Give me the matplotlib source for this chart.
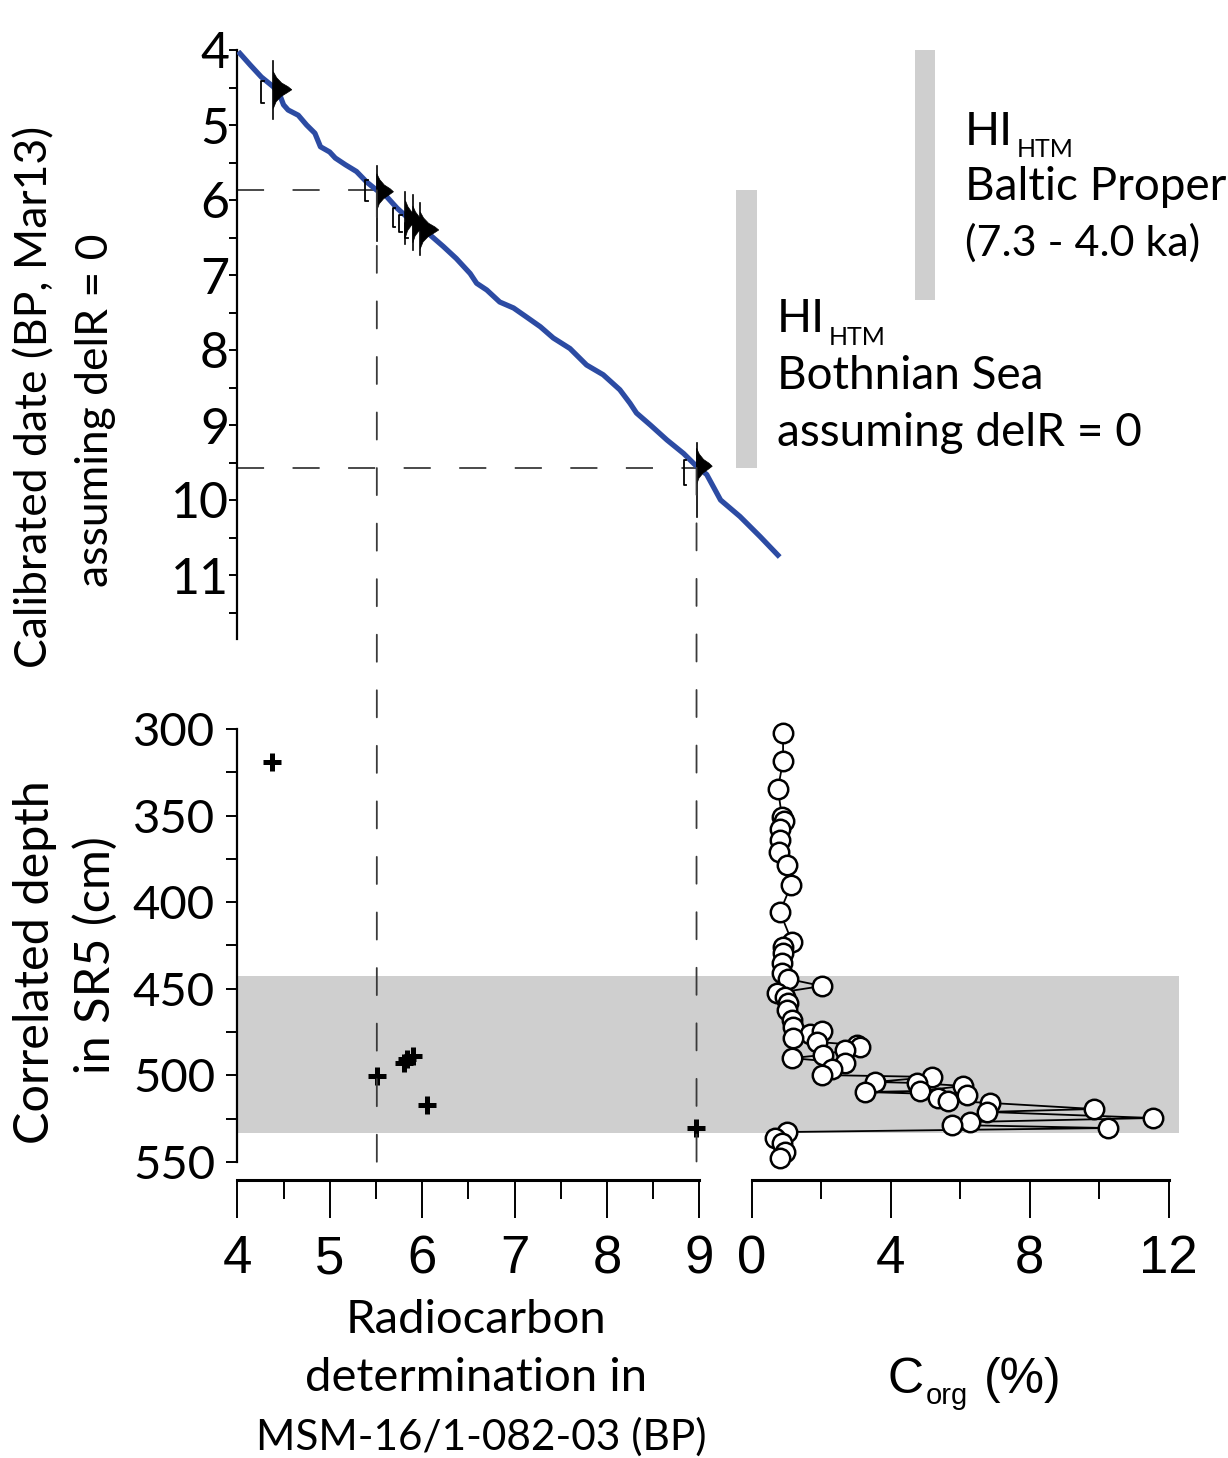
import matplotlib
matplotlib.use('Agg')
import matplotlib.pyplot as plt
from matplotlib.patches import ConnectionPatch, Rectangle, Polygon
from matplotlib.transforms import blended_transform_factory
from matplotlib.ticker import MultipleLocator

# ---------------- data ----------------
# calibration curve (radiocarbon ka BP -> calibrated ka BP)
curve_c14 = [4.01, 4.14, 4.26, 4.39, 4.46, 4.50, 4.55, 4.66, 4.75, 4.84, 4.87, 4.90, 5.00, 5.06,
             5.17, 5.29, 5.40, 5.51, 5.62, 5.73, 5.83, 5.94, 6.09, 6.23, 6.37, 6.52, 6.59, 6.70,
             6.84, 6.99, 7.13, 7.28, 7.42, 7.60, 7.78, 7.96, 8.14, 8.25, 8.32, 8.47, 8.65, 8.83,
             8.97, 9.08, 9.23, 9.44, 9.66, 9.87]
curve_cal = [4.02, 4.20, 4.36, 4.49, 4.60, 4.73, 4.80, 4.87, 5.00, 5.11, 5.20, 5.29, 5.36, 5.44,
             5.53, 5.62, 5.76, 5.87, 5.96, 6.11, 6.22, 6.33, 6.47, 6.62, 6.78, 6.98, 7.11, 7.20,
             7.36, 7.44, 7.56, 7.69, 7.84, 7.98, 8.20, 8.33, 8.53, 8.71, 8.84, 9.00, 9.20, 9.38,
             9.55, 9.66, 10.00, 10.22, 10.49, 10.76]

# calibrated dates: radiocarbon age, peak of calibrated probability, range of vertical line, bracket
date_c14 = [4.39, 5.51, 5.82, 5.90, 5.98, 8.97]
date_peak = [4.53, 5.89, 6.25, 6.32, 6.40, 9.55]
date_lo = [4.15, 5.55, 5.89, 5.93, 6.04, 9.24]
date_hi = [4.92, 6.55, 6.58, 6.67, 6.73, 10.22]
date_width = [0.20, 0.18, 0.15, 0.16, 0.20, 0.17]
bracket_x = [4.26, 5.38, 5.68, 5.75, 5.82, 8.83]
bracket_lo = [4.41, 5.73, 6.10, 6.20, 6.31, 9.47]
bracket_hi = [4.71, 6.02, 6.36, 6.42, 6.51, 9.80]
# shape of a calibrated probability distribution (relative)
pdf_dy = [-0.24, -0.16, -0.09, -0.04, 0.0, 0.04, 0.09, 0.16, 0.25]
pdf_w = [0.0, 0.18, 0.45, 0.80, 1.0, 0.75, 0.42, 0.15, 0.0]

# tie points (dashed lines)
tie_c14 = [5.51, 8.97]
tie_cal = [5.87, 9.57]

# HI_HTM ranges (calibrated ka)
hi_bothnian = (5.87, 9.57)
hi_baltic = (4.0, 7.33)

# radiocarbon dates vs correlated depth
cross_c14 = [4.38, 5.51, 5.80, 5.84, 5.90, 6.05, 8.96]
cross_depth = [319.2, 500.2, 493.0, 490.5, 489.0, 517.0, 530.2]

# Corg profile
corg = [0.90, 0.90, 0.75, 0.87, 0.93, 0.81, 0.81, 0.78, 1.01, 1.13, 0.81, 1.16, 0.90, 0.90,
        0.87, 0.87, 1.04, 2.02, 0.73, 0.96, 1.04, 1.01, 1.16, 1.19, 1.67, 2.02, 1.19, 1.88,
        3.03, 3.11, 2.68, 2.05, 1.16, 2.68, 2.31, 2.02, 5.19, 3.55, 4.75, 6.08, 4.84, 3.26,
        6.19, 5.36, 5.65, 6.86, 9.85, 6.77, 11.55, 6.28, 5.76, 10.25, 1.01, 0.67, 0.87, 0.96, 0.81]
corg_depth = [302.3, 318.5, 334.6, 350.8, 353.1, 357.7, 364.1, 371.0, 378.5, 390.1, 405.7, 423.0,
              425.9, 429.3, 435.1, 440.9, 444.3, 448.4, 452.4, 454.7, 458.2, 462.2, 468.0, 472.1,
              476.1, 474.4, 478.4, 480.7, 482.4, 483.6, 485.3, 488.2, 490.0, 492.8, 496.3, 499.8,
              500.9, 503.8, 504.4, 506.1, 509.0, 509.6, 511.3, 513.0, 514.8, 515.9, 519.4, 521.1,
              524.6, 526.9, 528.6, 530.4, 532.7, 536.2, 539.0, 544.2, 547.7]

# shaded hypoxic interval in depth
band_depth = (442.6, 533.0)

top_ticks = [4, 5, 6, 7, 8, 9, 10, 11]
depth_ticks = [300, 350, 400, 450, 500, 550]
c14_ticks = [4, 5, 6, 7, 8, 9]
corg_ticks = [0, 4, 8, 12]

# ---------------- figure ----------------
W, H, DPI = 1228, 1458, 100
plt.rcParams['font.family'] = ['Lato', 'DejaVu Sans']
fig = plt.figure(figsize=(W / DPI, H / DPI), dpi=DPI)
fig.patch.set_facecolor('white')

NARROW = ['Liberation Sans Narrow', 'Liberation Sans', 'DejaVu Sans']
BLUE = '#2c4ba3'
GREY = '#cfcfcf'
DASHC = '#3a3a3a'
TXT = 33


def add_ax(left, top, right, bottom):
    ax = fig.add_axes([left / W, 1 - bottom / H, (right - left) / W, (bottom - top) / H])
    ax.patch.set_visible(False)
    return ax

PXU = 92.4    # px per radiocarbon ka
X4 = 237.3    # px of 4 ka
# ---- top panel ----
ax_t = add_ax(X4, 50, X4 + 10.5 * PXU, 50 + 7.85 * 75)
ax_t.set_xlim(4, 14.5)
ax_t.set_ylim(11.85, 4)
for s in ['top', 'right', 'bottom']:
    ax_t.spines[s].set_visible(False)
ax_t.spines['left'].set_linewidth(1.6)
ax_t.set_xticks([])
ax_t.set_yticks(top_ticks)
ax_t.yaxis.set_minor_locator(MultipleLocator(0.5))
ax_t.tick_params(axis='y', which='major', length=6, width=1.4, pad=0, labelsize=36)
ax_t.tick_params(axis='y', which='minor', length=6, width=1.4)

ax_t.plot(curve_c14, curve_cal, color=BLUE, lw=3.8, solid_capstyle='butt', zorder=3)

for i in range(len(date_c14)):
    x0 = date_c14[i]
    ax_t.plot([x0, x0], [date_lo[i], date_hi[i]], color='black', lw=1.2, zorder=4)
    xs = [x0 + date_width[i] * w for w in pdf_w]
    ys = [date_peak[i] + d for d in pdf_dy]
    ax_t.add_patch(Polygon(list(zip(xs, ys)), closed=True, facecolor='black',
                           edgecolor='black', lw=0.5, zorder=5))
    bx, d = bracket_x[i], 0.03
    ax_t.plot([bx + d, bx, bx, bx + d], [bracket_lo[i], bracket_lo[i], bracket_hi[i], bracket_hi[i]],
              color='black', lw=1.3, zorder=4)

lw_d = 1.3
dash = (0, (19.5 / lw_d, 20.5 / lw_d))
for c, k in zip(tie_c14, tie_cal):
    ax_t.plot([4, c], [k, k], color=DASHC, lw=lw_d, linestyle=dash, zorder=2)

# grey bars (HI_HTM ranges)
ax_t.add_patch(Rectangle((9.40, hi_bothnian[0]), 0.225, hi_bothnian[1] - hi_bothnian[0],
                         facecolor=GREY, edgecolor='none', clip_on=False))
ax_t.add_patch(Rectangle((11.33, hi_baltic[0]), 0.22, hi_baltic[1] - hi_baltic[0],
                         facecolor=GREY, edgecolor='none', clip_on=False))

# ---- bottom left ----
PXD = 1.732
ytop_px = 729 - 5 * PXD
ax_b = add_ax(X4, ytop_px, X4 + 5.15 * PXU, 1180)
ax_b.set_xlim(4, 9.15)
ax_b.set_ylim(560.4, 295)
for s in ['top', 'right']:
    ax_b.spines[s].set_visible(False)
ax_b.spines['left'].set_bounds(300, 550)
ax_b.spines['bottom'].set_bounds(4, 9)
ax_b.spines['left'].set_linewidth(1.6)
ax_b.spines['bottom'].set_linewidth(2.2)
ax_b.set_yticks(depth_ticks)
ax_b.yaxis.set_minor_locator(MultipleLocator(25))
ax_b.set_xticks(c14_ticks)
ax_b.xaxis.set_minor_locator(MultipleLocator(0.5))
ax_b.tick_params(axis='y', which='both', length=8, width=1.4, pad=8, labelsize=34)
ax_b.tick_params(axis='x', which='major', length=27, width=1.4, pad=12, labelsize=38,
                 labelfontfamily=NARROW)
ax_b.tick_params(axis='x', which='minor', length=13.5, width=1.4)
ax_b.plot(cross_c14, cross_depth, linestyle='none', marker='+', markersize=13,
          mew=3.6, color='black', zorder=5)

# band across both bottom panels
tr = blended_transform_factory(fig.transFigure, ax_b.transData)
ax_b.add_patch(Rectangle((238 / W, band_depth[0]), (1179 - 238) / W, band_depth[1] - band_depth[0],
                         transform=tr, facecolor=GREY, edgecolor='none', clip_on=False, zorder=0))

# ---- bottom right: Corg ----
PXC = 34.75
ax_c = add_ax(751.8, ytop_px, 751.8 + 12.35 * PXC, 1180)
ax_c.set_xlim(0, 12.35)
ax_c.set_ylim(560.4, 295)
for s in ['top', 'right', 'left']:
    ax_c.spines[s].set_visible(False)
ax_c.spines['bottom'].set_bounds(0, 12)
ax_c.spines['bottom'].set_linewidth(2.2)
ax_c.set_yticks([])
ax_c.set_xticks(corg_ticks)
ax_c.xaxis.set_minor_locator(MultipleLocator(2))
ax_c.tick_params(axis='x', which='major', length=27, width=1.4, pad=12, labelsize=38,
                 labelfontfamily=NARROW)
ax_c.tick_params(axis='x', which='minor', length=13.5, width=1.4)
ax_c.plot(corg, corg_depth, color='black', lw=1.3, marker='o', markersize=14,
          mfc='white', mec='black', mew=1.8, zorder=5, clip_on=False)

# vertical dashed tie lines through the panels
for c, k in zip(tie_c14, tie_cal):
    cp = ConnectionPatch(xyA=(c, k), coordsA=ax_t.transData, xyB=(c, 560.4), coordsB=ax_b.transData,
                         color=DASHC, lw=lw_d, linestyle=dash)
    fig.add_artist(cp)


# ---------------- texts ----------------
def ftext(x, y, s, **kw):
    return fig.text(x / W, 1 - y / H, s, **kw)

renderer = fig.canvas.get_renderer()


def right_px(t):
    bb = t.get_window_extent(renderer=renderer)
    return bb.x1


ftext(35, 397, 'Calibrated date (BP, Mar13)', rotation=90, ha='center', va='center', fontsize=32)
ftext(95, 410, 'assuming delR = 0', rotation=90, ha='center', va='center', fontsize=32)
ftext(35, 962, 'Correlated depth', rotation=90, ha='center', va='center', fontsize=35)
ftext(95, 955, 'in SR5 (cm)', rotation=90, ha='center', va='center', fontsize=35)

ftext(476, 1320, 'Radiocarbon', ha='center', va='center', fontsize=34)
ftext(476, 1378, 'determination in', ha='center', va='center', fontsize=34)
ftext(481, 1437, 'MSM-16/1-082-03 (BP)', ha='center', va='center', fontsize=30.5)

# C_org (%)
tc = ftext(888, 1393, 'C', ha='left', va='baseline', fontsize=36, fontfamily=NARROW)
ftext(right_px(tc) + 2, 1404, 'org', ha='left', va='baseline', fontsize=21, fontfamily=NARROW)
ftext(984, 1393, '(%)', ha='left', va='baseline', fontsize=36, fontfamily=NARROW)

# HI_HTM labels
t1 = ftext(965, 145, 'HI', ha='left', va='baseline', fontsize=TXT)
ftext(right_px(t1) + 4, 157, 'HTM', ha='left', va='baseline', fontsize=18)
ftext(965, 200, 'Baltic Proper', ha='left', va='baseline', fontsize=TXT)
ftext(965, 256, '(7.3 - 4.0 ka)', ha='left', va='baseline', fontsize=31)

t2 = ftext(777, 332, 'HI', ha='left', va='baseline', fontsize=TXT)
ftext(right_px(t2) + 4, 345, 'HTM', ha='left', va='baseline', fontsize=18)
ftext(777, 389, 'Bothnian Sea', ha='left', va='baseline', fontsize=TXT)
ftext(777, 446, 'assuming delR = 0', ha='left', va='baseline', fontsize=TXT)

fig.savefig('out.png', dpi=DPI, facecolor='white')
